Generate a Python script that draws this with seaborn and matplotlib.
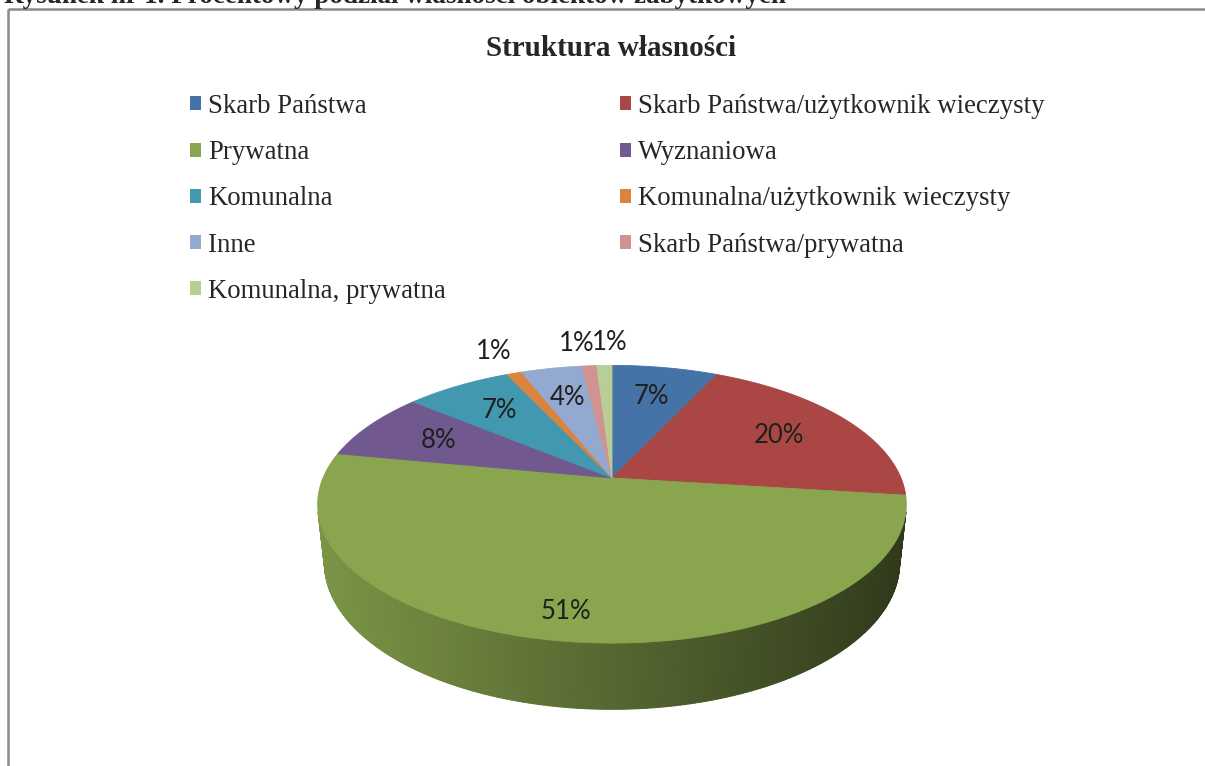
import numpy as np
import matplotlib
matplotlib.use("Agg")
import matplotlib.pyplot as plt
import matplotlib.colors as mcolors
from matplotlib.collections import PolyCollection
from matplotlib.patches import Patch, Polygon
import seaborn as sns

sns.set_theme(style="white")
plt.rcParams["font.family"] = ["Liberation Serif", "DejaVu Serif"]

caption = "Rysunek nr 1. Procentowy podział własności obiektów zabytkowych"
title = "Struktura własności"
categories = [
    "Skarb Państwa",
    "Skarb Państwa/użytkownik wieczysty",
    "Prywatna",
    "Wyznaniowa",
    "Komunalna",
    "Komunalna/użytkownik wieczysty",
    "Inne",
    "Skarb Państwa/prywatna",
    "Komunalna, prywatna",
]
shares = [7, 20, 51, 8, 7, 1, 4, 1, 1]
colors = sns.color_palette(["#4572A7", "#AA4643", "#89A54E", "#71588F", "#4198AF",
                            "#DB843D", "#93A9CF", "#D19392", "#B9CD96"])

# 3D view of the pie (Excel-like perspective)
W, H = 1205, 766
tilt = np.radians(27.6)
dist = 4.69
depth_h = 0.23
cx, cy = 612, 478
scale = 289 * dist


def project(x, y, z):
    s, c = np.sin(tilt), np.cos(tilt)
    d = dist - y * s + z * c
    up = y * c + z * s
    return cx + scale * x / d, cy - scale * up / d


fig = plt.figure(figsize=(W / 100, H / 100), dpi=100)
ax = fig.add_axes([0, 0, 1, 1])
ax.set_xlim(0, W)
ax.set_ylim(H, 0)
ax.axis("off")

frac = np.array(shares) / sum(shares)
cum = np.cumsum(frac)
edges = np.radians(90 - 360 * np.concatenate([[0], cum]))

# side wall (only the part facing the viewer)
t_vis = np.arcsin(1 / (dist * np.cos(tilt)))
ts = np.linspace(np.pi + t_vis, 2 * np.pi - t_vis, 300)
xt, yt = project(np.cos(ts), 0, np.sin(ts))
xb, yb = project(np.cos(ts), -depth_h, np.sin(ts))
polys, cols = [], []
for j in range(len(ts) - 1):
    tm = (ts[j] + ts[j + 1]) / 2
    a = ((np.pi / 2 - tm) % (2 * np.pi)) / (2 * np.pi)
    k = min(np.searchsorted(cum, a, side="right"), len(shares) - 1)
    base = np.array(mcolors.to_rgb(colors[k]))
    xm = (xt[j] + xt[j + 1]) / 2
    f = 0.9 - 0.55 * (xm - (cx - 295)) / 590
    polys.append([(xt[j], yt[j]), (xt[j + 1], yt[j + 1]), (xb[j + 1], yb[j + 1]), (xb[j], yb[j])])
    cols.append(np.clip(base * f, 0, 1))
ax.add_collection(PolyCollection(polys, facecolors=cols, edgecolors=cols, linewidths=0.8))

# top face
for i in range(len(shares)):
    n = max(int(abs(edges[i + 1] - edges[i]) * 80), 4)
    t = np.linspace(edges[i], edges[i + 1], n)
    px, py = project(np.cos(t), 0, np.sin(t))
    verts = np.column_stack([np.r_[cx, px], np.r_[cy, py]])
    ax.add_patch(Polygon(verts, closed=True, facecolor=colors[i], edgecolor=colors[i], lw=0.6))

# percentage labels
mids = (edges[:-1] + edges[1:]) / 2
label_pos = []
for i, m in enumerate(mids):
    r = 1.25 if frac[i] < 0.02 else (0.85 if frac[i] > 0.5 else 0.7)
    label_pos.append(list(project(r * np.cos(m), 0, r * np.sin(m))))
outside = [i for i in range(len(shares)) if frac[i] < 0.02]
outside.sort(key=lambda i: label_pos[i][0])
for a, b in zip(outside[:-1], outside[1:]):
    gap = label_pos[b][0] - label_pos[a][0]
    if gap < 33:
        mean = (label_pos[a][0] + label_pos[b][0]) / 2
        label_pos[a][0], label_pos[b][0] = mean - 16.5, mean + 16.5
for i, (x, y) in enumerate(label_pos):
    ax.text(x, y, f"{shares[i]}%", ha="center", va="center", fontsize=18.5,
            family=["Lato", "DejaVu Sans"], color="#1f1f1f")

# legend in two columns, filled row by row
order = list(range(0, len(categories), 2)) + list(range(1, len(categories), 2))
handles = [Patch(facecolor=colors[i], edgecolor="none", label=categories[i]) for i in order]
ax.legend(handles=handles, ncol=2, loc="upper left", bbox_to_anchor=(190 / W, 1 - 94 / H),
          bbox_transform=fig.transFigure, frameon=False, fontsize=19.3,
          handlelength=0.42, handleheight=0.42, handletextpad=0.25,
          columnspacing=6.5, labelspacing=0.79, borderpad=0, borderaxespad=0)

ax.text(611, 56, title, ha="center", va="baseline", fontsize=21, fontweight="bold")

# chart frame and the clipped caption above it
ax.plot([8, W + 5], [8.5, 8.5], color="#8a8a8a", lw=1.8, solid_capstyle="butt")
ax.plot([8, 8], [8.5, H + 5], color="#8a8a8a", lw=1.8, solid_capstyle="butt")
fig.text(4 / W, 1 - 3 / H, caption, fontsize=19.5, fontweight="bold", va="baseline")

fig.savefig("out.png", dpi=100)
